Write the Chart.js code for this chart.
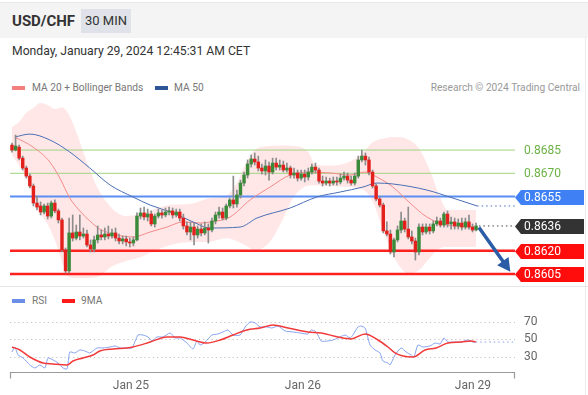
<!DOCTYPE html>
<html><head><meta charset="utf-8">
<script src="https://cdn.jsdelivr.net/npm/chart.js@4"></script>
<style>
body{margin:0;width:588px;height:395px;background:#fff;font-family:Roboto,"Liberation Sans",sans-serif;position:relative;overflow:hidden}
.a{position:absolute;white-space:nowrap}
.sw{position:absolute;height:4px;width:13px}
</style></head><body>
<div class="a" style="left:0;top:2px;width:588px;height:35px;background:#f4f4f4;border-top:1px solid #e8e8e8"></div>
<div class="a" style="left:12px;top:11px;line-height:20px;font-size:15px;font-weight:bold;color:#333">USD/CHF</div>
<div class="a" style="left:81px;top:9px;width:50px;height:24px;background:#dfe2e8;line-height:24px;text-align:center;font-size:13px;color:#333">30 MIN</div>
<div class="a" style="left:12px;top:42px;line-height:18px;font-size:12.2px;color:#333">Monday, January 29, 2024 12:45:31 AM CET</div>
<div class="sw" style="left:12px;top:86px;background:#f47f7f"></div>
<div class="a" style="left:32px;top:81px;line-height:14px;font-size:10.2px;color:#777">MA 20 + Bollinger Bands</div>
<div class="sw" style="left:155px;top:86px;background:#2d5699"></div>
<div class="a" style="left:174px;top:81px;line-height:14px;font-size:10.2px;color:#777">MA 50</div>
<div class="a" style="right:8px;top:81px;line-height:14px;font-size:10.2px;color:#999">Research © 2024 Trading Central</div>
<div class="a" style="left:0;top:286px;width:588px;height:1px;background:#e6e6e6"></div>
<div class="sw" style="left:12px;top:299px;background:#6b8fe6"></div>
<div class="a" style="left:32px;top:294px;line-height:14px;font-size:10.2px;color:#777">RSI</div>
<div class="sw" style="left:62px;top:299px;background:#ff1a1a"></div>
<div class="a" style="left:81px;top:294px;line-height:14px;font-size:10.2px;color:#777">9MA</div>
<div class="a" style="left:585px;top:37px;width:1px;height:358px;background:#ececec"></div>
<canvas id="price" class="a" style="left:0;top:100px" width="588" height="185"></canvas>
<canvas id="rsi" class="a" style="left:0;top:290px" width="588" height="105"></canvas>
<script>
// ---- candle data (30 min, USD/CHF) ----
const openP = [.86882,.8685,.86869,.86798,.86734,.86682,.86618,.86508,.86489,.8645,
.86489,.86424,.86508,.86457,.86399,.86205,.8607,.86315,.86282,.86321,
.86295,.86308,.86237,.86211,.8627,.86302,.86289,.86308,.86295,.86315,
.86282,.86263,.86276,.86257,.8625,.8627,.86424,.86444,.86418,.86437,
.86373,.86424,.86444,.86431,.8645,.86457,.86431,.8645,.86411,.8636,
.86321,.86353,.86302,.8634,.86315,.86347,.86334,.86392,.86431,.8645,
.86411,.86489,.86528,.86502,.8656,.86637,.86689,.8676,.86792,.86773,
.86734,.86715,.86747,.86708,.86766,.8674,.86753,.86721,.86734,.86689,
.86702,.86669,.86695,.86676,.86708,.8674,.86721,.8665,.86637,.8665,
.86637,.8665,.86644,.86669,.86682,.86656,.86637,.86682,.86786,.86811,
.86786,.86708,.86618,.86534,.86495,.86328,.86308,.86192,.8627,.86334,
.86392,.8634,.86289,.86263,.86192,.86353,.86321,.86353,.86328,.86373,
.86392,.86366,.86437,.86373,.86386,.8636,.86379,.86353,.86386,.86353,
.86334];
const highP = [.86895,.86947,.86882,.86811,.86747,.86695,.86631,.86553,.86515,.86502,
.86508,.86521,.86528,.86469,.86411,.86218,.86411,.86431,.86366,.86431,
.86347,.86334,.8627,.86295,.8636,.86334,.86347,.8636,.8634,.86347,
.86308,.86295,.86295,.86282,.86289,.86444,.86476,.86482,.86469,.86457,
.86437,.86469,.86463,.86476,.86482,.86476,.86469,.86469,.86437,.86386,
.86386,.86379,.8636,.86373,.86386,.86373,.86411,.8645,.86482,.86476,
.86502,.8654,.86682,.86592,.86656,.86708,.86786,.86818,.86831,.86811,
.8676,.86786,.86773,.86798,.86798,.86786,.86779,.86766,.86747,.86734,
.86721,.86721,.86721,.86734,.8676,.86766,.86734,.86682,.86676,.86669,
.86676,.86676,.86695,.86708,.86702,.86682,.86702,.86811,.8685,.86831,
.86805,.86721,.86631,.86547,.86508,.86386,.86334,.86282,.8636,.8645,
.86411,.86482,.86328,.86282,.86373,.86373,.86373,.86373,.86392,.86418,
.86411,.8645,.86457,.86418,.86411,.86405,.86411,.86411,.86431,.86373,
.86379];
const lowP = [.86837,.86844,.86786,.86721,.86669,.86605,.86489,.86463,.86431,.86437,
.86405,.86411,.86444,.86379,.86192,.86057,.86057,.86263,.8627,.8627,
.86282,.86224,.86192,.86192,.8625,.8627,.8627,.86276,.86282,.86263,
.86244,.86244,.86231,.86224,.86231,.86263,.86405,.86399,.86392,.8636,
.86353,.86411,.86411,.86418,.86431,.86411,.86418,.86392,.8634,.86302,
.8627,.86237,.86282,.86295,.86302,.8625,.86321,.86373,.86411,.86399,
.86399,.86476,.86476,.86482,.8654,.86618,.86669,.8674,.86753,.86715,
.86695,.86689,.86656,.86695,.86721,.86721,.86708,.86708,.86669,.86669,
.8665,.86656,.86644,.86656,.86695,.86702,.86637,.86618,.86624,.86618,
.86624,.86624,.86631,.86656,.86637,.86624,.86624,.86669,.86773,.86753,
.86689,.86605,.86521,.86482,.86315,.86295,.86179,.8616,.86257,.86315,
.86321,.86276,.86244,.8614,.86173,.86302,.86308,.86308,.86315,.8636,
.86353,.86353,.86353,.8634,.8634,.8634,.86334,.8634,.8634,.86321,
.86328];
const closeP = [.8685,.86876,.86798,.86734,.86682,.86618,.86508,.86482,.8645,.86489,
.86424,.86508,.86457,.86399,.86205,.8607,.86315,.86282,.86321,.86295,
.86308,.86237,.86211,.8627,.86302,.86289,.86308,.86295,.86315,.86282,
.86263,.86276,.86257,.8625,.8627,.86424,.86444,.86418,.86437,.86373,
.86424,.86444,.86431,.8645,.86457,.86431,.8645,.86411,.8636,.86321,
.86353,.86302,.8634,.86315,.86347,.86334,.86392,.86431,.8645,.86411,
.86489,.86528,.86502,.8656,.86637,.86689,.8676,.86792,.86773,.86734,
.86715,.86747,.86708,.86766,.8674,.86753,.86721,.86734,.86689,.86702,
.86669,.86695,.86676,.86708,.8674,.86721,.8665,.86637,.8665,.86637,
.8665,.86644,.86669,.86682,.86656,.86637,.86682,.86786,.86811,.86786,
.86708,.86618,.86534,.86495,.86328,.86308,.86192,.8627,.86334,.86392,
.8634,.86289,.86263,.86192,.86353,.86321,.86353,.86328,.86373,.86392,
.86366,.86437,.86373,.86386,.8636,.86379,.86353,.86386,.86353,.86334,
.8636];

// ---- indicators (candle index, value) ----
const ma20Idx = [0.8,5.9,10.6,13.4,16.2,19,21.8,24.6,29.4,33.9,38.7,43.4,47.9,52.7,55.5,61.1,66.7,72.3,77.9,83.5,89.1,94.7,98.9,102.2,106.7,111.5,116.2,121.8,130];
const ma20Val = [.86934,.86869,.86773,.86669,.8654,.86457,.86392,.8634,.86302,.86289,.86321,.86353,.86386,.86379,.86386,.86418,.86528,.86611,.86689,.86708,.86702,.86689,.86708,.86676,.86611,.86508,.86418,.86366,.86353];
const ma50Idx = [0.8,5,10.6,16.2,21.8,27.5,33.9,38.7,45.1,50.7,55.5,63.9,68.6,77.9,85.4,91.9,98.3,102.2,106.7,116.2,123.5,130.3];
const ma50Val = [.86934,.86953,.86915,.86837,.86734,.86624,.86547,.86495,.86444,.86386,.86347,.86353,.86411,.86476,.86547,.86579,.86611,.86637,.86631,.86592,.8654,.86489];
const bandIdx = [0,2,4,6,8,10,12,14,16,18,21,24,28,32,36,40,45,50,55,60,63,65,68,72,76,79,83,85,89,94,98,101,104,107,111,114,117,120,122,130];
const bandUpper = [.86998,.87031,.8709,.87121,.87153,.8714,.87115,.87127,.87076,.86966,.86773,.86605,.86475,.86424,.86437,.8647,.86498,.86502,.86537,.86555,.86637,.8674,.8685,.86876,.8688,.86876,.86837,.86753,.8675,.8677,.86825,.869,.86925,.86934,.86918,.8686,.86721,.8654,.86463,.86463];
const bandLower = [.86818,.8675,.8667,.8656,.8644,.8637,.8627,.86128,.8603,.86024,.86024,.8603,.86098,.86134,.86158,.862,.8624,.86257,.86257,.8628,.86262,.8624,.86205,.8625,.8641,.8655,.8662,.86622,.86618,.86612,.86598,.8652,.8633,.8616,.86055,.86075,.86153,.86218,.86224,.86224];
const ma50Tail = .86489;

// ---- levels ----
const levelValues = [0.8685, 0.8670, 0.8655, 0.8636, 0.8620, 0.8605];
const levelLabels = ['0.8685','0.8670','0.8655','0.8636','0.8620','0.8605'];
const levelKinds = ['resistance','resistance','pivot','last','support','support'];
const arrowFrom = [130.8, 0.8635];
const arrowTo = [139.6, 0.86065];

// ---- RSI ----
const rsiIdx = [0,0.8,1.7,3.1,5,6.4,7.8,9.2,10.1,11.5,12.9,14.3,15.4,16.2,17.6,19,20.4,21.8,23.8,25.5,27.5,28.9,30.3,32.2,33.6,35.3,36.7,38.1,39.2,40.6,42.3,44.3,45.7,47.1,49,50.7,51.8,52.7,54.1,56,57.7,59.1,60.5,61.9,63.9,65.3,66.7,68.1,69.5,71.4,72.8,74.5,76.5,78.7,80.7,82.9,83.8,85.2,86.6,88.5,89.9,91.3,93.3,94.7,95.5,96.9,97.8,98.9,100.3,101.7,103.1,103.9,105.3,105.9,107.3,109,110.4,111.8,112.6,113.7,115.1,117.1,118.5,119.9,121,122.1,124.1,125.8,127.7,129.1,129.9];
const rsiVal = [35.7,41.4,32.3,28.9,20.9,17.4,20.9,17.4,28.9,26.6,23.1,17.4,16.3,35.7,34.6,38,36.9,34.6,40.3,40.3,41.4,42.6,40.3,40.3,40.3,55.1,55.1,52.9,48.3,52.9,52.9,57.4,51.7,51.7,46,39.1,48.3,43.7,47.1,55.1,56.3,58.6,60.9,55.1,55.1,64.3,70,68.9,64.3,64.3,63.1,65.4,59.7,58.6,57.4,56.3,60.9,58.6,48.3,48.3,49.4,51.7,55.1,51.7,55.1,64.3,65.4,63.1,43.7,38,34.6,25.4,23.1,20.9,32.3,40.3,35.7,32.3,30,43.7,41.4,42.6,46,44.9,51.7,47.1,47.1,47.1,49.4,47.1,47.1];
const ma9Idx = [0,2.2,5,8.7,11.5,15.4,17.1,19.9,22.7,24.6,28.3,32.2,33.9,38.7,43.4,47.1,50.7,54.6,58.3,61.9,65.8,69.5,73.1,77.3,82.9,86.6,91.3,95,98.9,102.5,105.3,107.3,109.5,112.3,115.7,118.8,122.1,125.8,128.6,129.9];
const ma9Val = [41.4,38,30,23.1,22,20.9,25.4,28.9,32.3,36.9,39.1,40.3,41.4,47.1,52.9,52.9,49.4,46,49.4,55.1,60.9,63.1,66.6,63.1,58.6,57.4,52.9,50.6,56.3,49.4,41.4,34.6,31.1,30,38,40.3,46,47.1,48.3,47.1];
const rsiTail = 47.1;
const rsiGrid = [70, 50, 30];
const timeTickIdx = [33.3, 81.5, 129.1];
const timeTickLabels = ['Jan 25', 'Jan 26', 'Jan 29'];

// ---- axis ranges ----
const X_MIN = -0.56, X_MAX = 140.9;
const Y_MIN = 0.85979, Y_MAX = 0.87173;
const RSI_MIN = 11.7, RSI_MAX = 89.4;

const pts = (xs, ys) => xs.map((x, i) => ({x, y: ys[i]}));
const UP = '#3a8a3a', DOWN = '#e3211c';
const candleColor = ctx => closeP[ctx.dataIndex] >= openP[ctx.dataIndex] ? UP : DOWN;
const hline = (v, color, width, dash, order) => ({type:'line', data:[{x:X_MIN,y:v},{x:X_MAX,y:v}], borderColor:color, borderWidth:width, borderDash:dash||[], pointRadius:0, fill:false, order});
const lastIdx = closeP.length - 1;

const priceOverlay = {
  id: 'priceOverlay',
  afterDatasetsDraw(chart) {
    const {ctx, chartArea, scales: {x, y}} = chart;
    ctx.save();
    const x1 = x.getPixelForValue(arrowFrom[0]), y1 = y.getPixelForValue(arrowFrom[1]);
    const x2 = x.getPixelForValue(arrowTo[0]), y2 = y.getPixelForValue(arrowTo[1]);
    const a = Math.atan2(y2 - y1, x2 - x1), L = 13, W = 7;
    ctx.strokeStyle = ctx.fillStyle = '#2b5ca6';
    ctx.lineWidth = 3.5; ctx.lineCap = 'butt';
    ctx.beginPath(); ctx.moveTo(x1, y1);
    ctx.lineTo(x2 - (L - 2) * Math.cos(a), y2 - (L - 2) * Math.sin(a)); ctx.stroke();
    const bx = x2 - L * Math.cos(a), by = y2 - L * Math.sin(a);
    ctx.beginPath(); ctx.moveTo(x2, y2);
    ctx.lineTo(bx + W * Math.sin(a), by - W * Math.cos(a));
    ctx.lineTo(bx - W * Math.sin(a), by + W * Math.cos(a));
    ctx.closePath(); ctx.fill();
    ctx.font = '12px Roboto, "Liberation Sans", sans-serif';
    ctx.textBaseline = 'middle';
    const left = chartArea.right;
    levelValues.forEach((v, i) => {
      const py = Math.round(y.getPixelForValue(v)) + 0.5;
      const kind = levelKinds[i];
      if (kind === 'resistance') {
        ctx.fillStyle = '#6bb244';
        ctx.fillText(levelLabels[i], left + 9, py);
      } else {
        ctx.fillStyle = kind === 'pivot' ? '#3f80f4' : kind === 'last' ? '#333333' : '#ff0d0d';
        ctx.beginPath();
        ctx.moveTo(left, py);
        ctx.lineTo(left + 6, py - 7.5);
        ctx.lineTo(left + 69, py - 7.5);
        ctx.lineTo(left + 69, py + 7.5);
        ctx.lineTo(left + 6, py + 7.5);
        ctx.closePath(); ctx.fill();
        ctx.fillStyle = '#ffffff';
        ctx.fillText(levelLabels[i], left + 9, py + 0.5);
      }
    });
    ctx.restore();
  }
};

new Chart(document.getElementById('price'), {
  type: 'bar',
  data: { datasets: [
    {type:'line', data: pts(bandIdx, bandUpper), borderWidth:0, pointRadius:0, fill:'+1', backgroundColor:'rgba(255,110,110,0.17)', cubicInterpolationMode:'monotone', order:30},
    {type:'line', data: pts(bandIdx, bandLower), borderWidth:0, pointRadius:0, fill:false, cubicInterpolationMode:'monotone', order:31},
    hline(levelValues[0], '#9fd47e', 1, null, 20),
    hline(levelValues[1], '#9fd47e', 1, null, 20),
    hline(levelValues[2], '#5a8ef2', 2, null, 20),
    hline(levelValues[4], '#ff2020', 2.5, null, 20),
    hline(levelValues[5], '#ff2020', 2.5, null, 20),
    {type:'line', data: pts(ma50Idx, ma50Val), borderColor:'#4a6fb5', borderWidth:1, pointRadius:0, fill:false, cubicInterpolationMode:'monotone', order:10},
    {type:'line', data: pts(ma20Idx, ma20Val), borderColor:'#f38a8a', borderWidth:1, pointRadius:0, fill:false, cubicInterpolationMode:'monotone', order:10},
    {type:'line', data: [{x:ma50Idx[ma50Idx.length-1], y:ma50Tail},{x:X_MAX, y:ma50Tail}], borderColor:'#4a6fb5', borderWidth:1, borderDash:[1.5,3], pointRadius:0, fill:false, order:9},
    {type:'line', data: [{x:lastIdx + 0.8, y:closeP[lastIdx]},{x:X_MAX, y:closeP[lastIdx]}], borderColor:'#444', borderWidth:1, borderDash:[1.5,3], pointRadius:0, fill:false, order:9},
    {type:'bar', data: lowP.map((l, i) => ({x:i, y:[l, highP[i]]})), backgroundColor:'#8c8c8c', barThickness:1, grouped:false, order:3},
    {type:'bar', data: openP.map((o, i) => ({x:i, y:[o, closeP[i]]})), backgroundColor:candleColor, barThickness:2.8, minBarLength:1, grouped:false, order:2}
  ]},
  options: {
    responsive:false, animation:false, events:[],
    layout:{padding:{left:10, right:73, top:0, bottom:0}},
    plugins:{legend:{display:false}, tooltip:{enabled:false}},
    scales:{
      x:{type:'linear', min:X_MIN, max:X_MAX, offset:false, display:false},
      y:{type:'linear', min:Y_MIN, max:Y_MAX, display:false}
    }
  },
  plugins:[priceOverlay]
});

const rsiOverlay = {
  id:'rsiOverlay',
  beforeDatasetsDraw(chart) {
    const {ctx, chartArea, scales:{y}} = chart;
    ctx.save();
    ctx.strokeStyle = '#c4c4c4'; ctx.lineWidth = 1; ctx.setLineDash([1.2, 3]);
    rsiGrid.forEach(v => {
      const py = Math.round(y.getPixelForValue(v)) + 0.5;
      ctx.beginPath(); ctx.moveTo(chartArea.left, py); ctx.lineTo(chartArea.right, py); ctx.stroke();
    });
    ctx.restore();
  },
  afterDraw(chart) {
    const {ctx, chartArea, scales:{x, y}} = chart;
    ctx.save();
    ctx.font = '12px Roboto, "Liberation Sans", sans-serif';
    ctx.fillStyle = '#666'; ctx.textBaseline = 'middle';
    rsiGrid.forEach(v => ctx.fillText(String(v), chartArea.right + 9, y.getPixelForValue(v)));
    const by = Math.round(chartArea.bottom) - 0.5;
    ctx.strokeStyle = '#9a9a9a'; ctx.lineWidth = 1.2;
    ctx.beginPath();
    ctx.moveTo(chartArea.left + 0.5, by + 6); ctx.lineTo(chartArea.left + 0.5, by);
    ctx.lineTo(chartArea.right - 0.5, by); ctx.lineTo(chartArea.right - 0.5, by + 6);
    ctx.stroke();
    ctx.textAlign = 'center';
    timeTickIdx.forEach((t, i) => ctx.fillText(timeTickLabels[i], x.getPixelForValue(t), by + 13));
    ctx.restore();
  }
};

new Chart(document.getElementById('rsi'), {
  type:'line',
  data:{datasets:[
    {data: pts(ma9Idx, ma9Val), borderColor:'#f23a3a', borderWidth:1.5, pointRadius:0, fill:false, cubicInterpolationMode:'monotone', order:1},
    {data: pts(rsiIdx, rsiVal), borderColor:'#86a2f0', borderWidth:1, pointRadius:0, fill:false, tension:0.2, order:2},
    {data: [{x:rsiIdx[rsiIdx.length-1], y:rsiTail},{x:X_MAX, y:rsiTail}], borderColor:'#86a2f0', borderWidth:1, borderDash:[1.5,3], pointRadius:0, fill:false, order:3}
  ]},
  options:{
    responsive:false, animation:false, events:[],
    layout:{padding:{left:10, right:73, top:15, bottom:22}},
    plugins:{legend:{display:false}, tooltip:{enabled:false}},
    scales:{
      x:{type:'linear', min:X_MIN, max:X_MAX, offset:false, display:false},
      y:{type:'linear', min:RSI_MIN, max:RSI_MAX, display:false}
    }
  },
  plugins:[rsiOverlay]
});
</script>
</body></html>
